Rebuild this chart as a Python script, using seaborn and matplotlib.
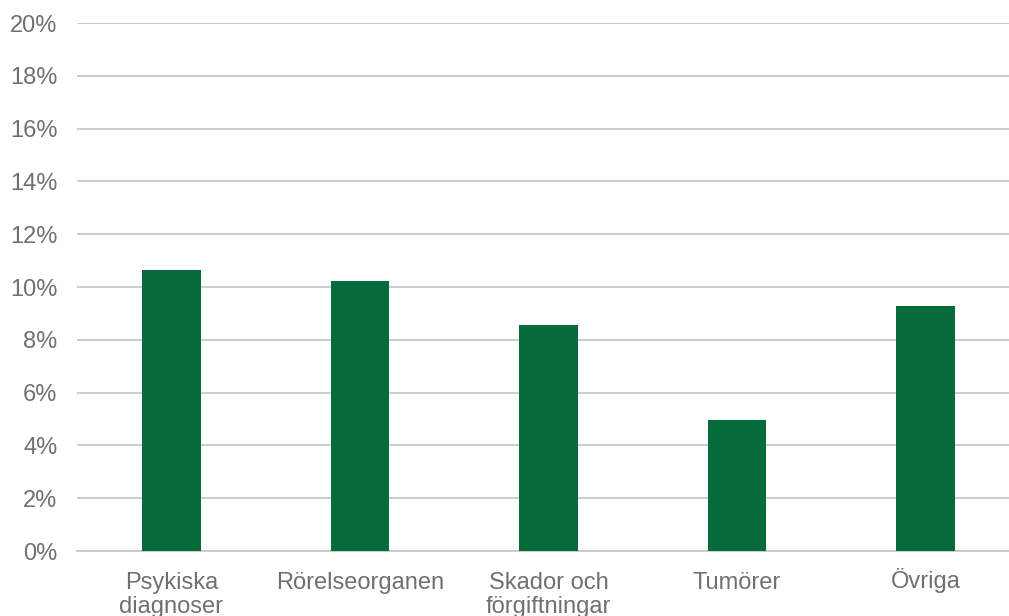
import pandas as pd
import numpy as np
import seaborn as sns
import matplotlib.pyplot as plt
import matplotlib.transforms as mtransforms
from matplotlib.ticker import PercentFormatter

categories = ['Psykiska\ndiagnoser', 'Rörelseorganen', 'Skador och\nförgiftningar', 'Tumörer', 'Övriga']
values = [10.64, 10.23, 8.56, 4.96, 9.28]

df = pd.DataFrame({'kategori': categories, 'andel': values})

sns.set_style('white')
plt.rcParams['font.family'] = ['Liberation Sans', 'DejaVu Sans']

fig = plt.figure(figsize=(10.09, 6.16), dpi=100)
ax = fig.add_axes([0.0763, 0.1055, 0.9345, 0.857])

sns.barplot(data=df, x='kategori', y='andel', color='#056B3A', saturation=1,
            width=0.31, linewidth=0, ax=ax, zorder=3)

ax.set_ylim(0, 20)
ax.set_xlim(-0.5, 4.5)
ax.set_yticks(np.arange(0, 21, 2))
ax.yaxis.set_major_formatter(PercentFormatter(decimals=0))
ax.grid(axis='y', color='#c8c8c8', linewidth=1.3, zorder=0)
for s in ['top', 'right', 'left']:
    ax.spines[s].set_visible(False)
ax.spines['bottom'].set_color('#c8c8c8')
ax.spines['bottom'].set_linewidth(1.3)
ax.tick_params(axis='both', length=0, labelsize=17, colors='#707070')
ax.tick_params(axis='x', pad=15)
ax.tick_params(axis='y', pad=14)
for lbl in ax.get_xticklabels():
    lbl.set_linespacing(1.15)
    # the accent on Ö pushes the label down; lift it to the common baseline
    if lbl.get_text().startswith('Ö'):
        lbl.set_transform(lbl.get_transform() +
                          mtransforms.ScaledTranslation(0, 4 / 100, fig.dpi_scale_trans))
ax.set_xlabel('')
ax.set_ylabel('')

fig.savefig('out.png', dpi=100)
